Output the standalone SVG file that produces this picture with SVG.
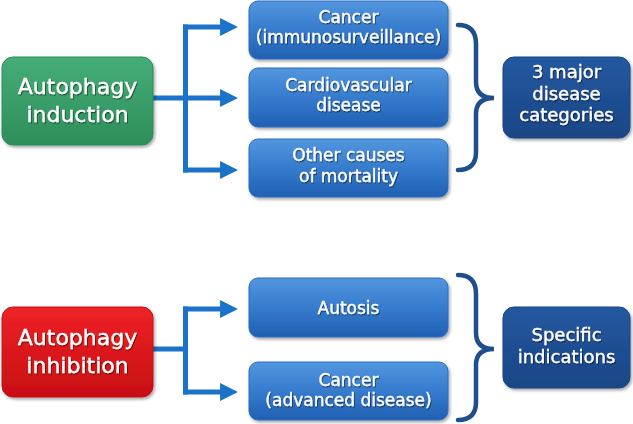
<svg xmlns="http://www.w3.org/2000/svg" width="633" height="424" viewBox="0 0 633 424">
<defs>
<linearGradient id="gBlue" x1="0" y1="0" x2="0" y2="1">
<stop offset="0" stop-color="#5396de"/><stop offset="0.5" stop-color="#367bcd"/><stop offset="1" stop-color="#2160b2"/>
</linearGradient>
<linearGradient id="gGreen" x1="0" y1="0" x2="0" y2="1">
<stop offset="0" stop-color="#45ad77"/><stop offset="1" stop-color="#2e8e5b"/>
</linearGradient>
<linearGradient id="gRed" x1="0" y1="0" x2="0" y2="1">
<stop offset="0" stop-color="#ee2226"/><stop offset="1" stop-color="#c80f12"/>
</linearGradient>
<linearGradient id="gDark" x1="0" y1="0" x2="0" y2="1">
<stop offset="0" stop-color="#2458a0"/><stop offset="1" stop-color="#1a4685"/>
</linearGradient>
<filter id="sh" x="-10%" y="-10%" width="130%" height="140%">
<feDropShadow dx="1.5" dy="2" stdDeviation="1.5" flood-color="#000" flood-opacity="0.35"/>
</filter>
<filter id="tsh" x="-10%" y="-20%" width="120%" height="150%">
<feDropShadow dx="0.8" dy="1.2" stdDeviation="0.7" flood-color="#000" flood-opacity="0.55"/>
</filter>
<marker id="ah" viewBox="0 0 10 10" refX="2.2" refY="5" markerWidth="18" markerHeight="18" markerUnits="userSpaceOnUse" orient="auto">
<path d="M0,0 L10,5 L0,10 Z" fill="#1a73c8"/>
</marker>
<style>
.blue{fill:url(#gBlue);stroke:#2a6cc0;stroke-width:1;filter:url(#sh)}
.dark{fill:url(#gDark);stroke:#1a4582;stroke-width:1;filter:url(#sh)}
.t{font-family:"DejaVu Sans","Verdana",sans-serif;fill:#fff;stroke:#fff;stroke-width:0.35;text-anchor:middle;filter:url(#tsh)}
.s17{font-size:17px}
.s18{font-size:18px}
.s22{font-size:22px}
.conn{fill:none;stroke:#1a73c8;stroke-width:5}
.arr{fill:none;stroke:#1a73c8;stroke-width:5;marker-end:url(#ah)}
.brace{fill:none;stroke:#1f4e8c;stroke-width:4.5;stroke-linecap:round}
</style>
</defs>
<rect width="633" height="424" fill="#fff"/>

<g id="connectors">
<path class="conn" d="M153,98 H185.5 M185.5,24.5 V172.5"/>
<path class="arr" d="M183,27 H224"/>
<path class="arr" d="M183,98 H224"/>
<path class="arr" d="M183,170 H224"/>
<path class="conn" d="M153,349 H185.5 M185.5,306.5 V394.5"/>
<path class="arr" d="M183,309 H224"/>
<path class="arr" d="M183,392 H224"/>
<path class="brace" d="M458,25 Q476,25 476,44 L476,82 Q476,98 494,98 Q476,98 476,114 L476,152 Q476,170 458,170"/>
<path class="brace" d="M458,275 Q476,275 476,294 L476,333 Q476,349 494,349 Q476,349 476,365 L476,402 Q476,420 458,420"/>
</g>

<g id="induction">
<rect x="2" y="57" width="151" height="88" rx="11" fill="url(#gGreen)" stroke="#2d8a58" filter="url(#sh)"/>
<text class="t s22" x="77.5" y="94">Autophagy</text>
<text class="t s22" x="77.5" y="122">induction</text>
</g>

<g id="cancer1">
<rect class="blue" x="249" y="1" width="199" height="58" rx="9"/>
<text class="t s17" x="348.5" y="23">Cancer</text>
<text class="t s17" x="348.5" y="43">(immunosurveillance)</text>
</g>

<g id="cardio">
<rect class="blue" x="249" y="68" width="199" height="59" rx="9"/>
<text class="t s17" x="348.5" y="91">Cardiovascular</text>
<text class="t s17" x="348.5" y="111">disease</text>
</g>

<g id="other">
<rect class="blue" x="249" y="139" width="199" height="58" rx="9"/>
<text class="t s17" x="348.5" y="161">Other causes</text>
<text class="t s17" x="348.5" y="182">of mortality</text>
</g>

<g id="major">
<rect class="dark" x="503" y="57" width="127" height="81" rx="11"/>
<text class="t s18" x="566.5" y="78">3 major</text>
<text class="t s18" x="566.5" y="100">disease</text>
<text class="t s18" x="566.5" y="121">categories</text>
</g>

<g id="inhibition">
<rect x="2" y="307" width="151" height="90" rx="11" fill="url(#gRed)" stroke="#c41013" filter="url(#sh)"/>
<text class="t s22" x="77.5" y="345">Autophagy</text>
<text class="t s22" x="77.5" y="373">inhibition</text>
</g>

<g id="autosis">
<rect class="blue" x="249" y="278" width="199" height="59" rx="9"/>
<text class="t s17" x="348.5" y="314">Autosis</text>
</g>

<g id="cancer2">
<rect class="blue" x="249" y="362" width="199" height="58" rx="9"/>
<text class="t s17" x="348.5" y="386">Cancer</text>
<text class="t s17" x="348.5" y="406">(advanced disease)</text>
</g>

<g id="specific">
<rect class="dark" x="503" y="307" width="127" height="81" rx="11"/>
<text class="t s18" x="566.5" y="341">Specific</text>
<text class="t s18" x="566.5" y="363">indications</text>
</g>
</svg>
